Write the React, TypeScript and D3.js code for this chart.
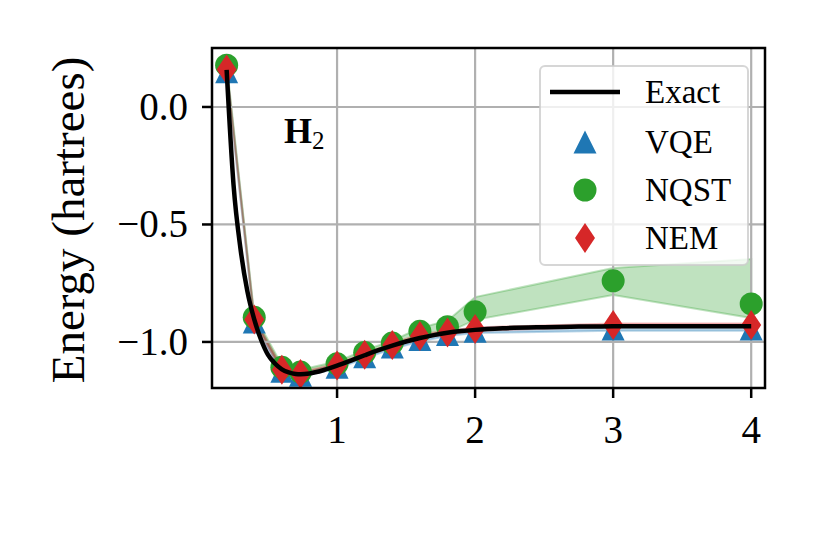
import React, { useEffect, useRef } from 'react';
import * as d3 from 'd3';

// bond lengths (angstrom) where the three methods were evaluated
const bondLengths = [0.2, 0.4, 0.6, 0.735, 1.0, 1.2, 1.4, 1.6, 1.8, 2.0, 3.0, 4.0];

// exact (FCI) curve, sampled densely
const exactX = [0.2, 0.25, 0.3, 0.35, 0.4, 0.45, 0.5, 0.55, 0.6, 0.65, 0.7, 0.735, 0.8, 0.9, 1.0, 1.1, 1.2, 1.3, 1.4, 1.5, 1.6, 1.7, 1.8, 1.9, 2.0, 2.2, 2.5, 2.75, 3.0, 3.5, 4.0];
const exactE = [0.1575, -0.3312, -0.6018, -0.7840, -0.9043, -0.9915, -1.0551, -1.0918, -1.1163, -1.1295, -1.1362, -1.1373, -1.1341, -1.1204, -1.1012, -1.0792, -1.0567, -1.0350, -1.0154, -0.9982, -0.9834, -0.9711, -0.9610, -0.9538, -0.9486, -0.9417, -0.9370, -0.9347, -0.9336, -0.9332, -0.9331];

const vqe = [0.150, -0.915, -1.125, -1.142, -1.108, -1.063, -1.022, -0.990, -0.968, -0.955, -0.945, -0.945];
const vqeLo = [0.140, -0.925, -1.133, -1.148, -1.114, -1.070, -1.030, -0.998, -0.975, -0.962, -0.952, -0.952];
const vqeHi = [0.165, -0.900, -1.115, -1.132, -1.098, -1.052, -1.010, -0.978, -0.955, -0.940, -0.930, -0.930];

const nqst = [0.178, -0.895, -1.108, -1.128, -1.093, -1.045, -1.005, -0.955, -0.935, -0.872, -0.740, -0.838];
const nqstLo = [0.170, -0.905, -1.118, -1.138, -1.103, -1.055, -1.015, -0.975, -0.960, -0.906, -0.800, -0.898];
const nqstHi = [0.185, -0.885, -1.098, -1.118, -1.083, -1.035, -0.995, -0.940, -0.910, -0.809, -0.685, -0.647];

const nem = [0.160, -0.905, -1.118, -1.136, -1.100, -1.055, -1.013, -0.975, -0.960, -0.945, -0.928, -0.928];
const nemLo = [0.152, -0.913, -1.126, -1.143, -1.107, -1.062, -1.020, -0.983, -0.968, -0.952, -0.935, -0.935];
const nemHi = [0.168, -0.897, -1.110, -1.129, -1.093, -1.048, -1.006, -0.967, -0.952, -0.938, -0.921, -0.921];

const xTicks = [1, 2, 3, 4];
const yTicks = [0.0, -0.5, -1.0];
const legendLabels = ['Exact', 'VQE', 'NQST', 'NEM'];

const BLUE = '#1f77b4';
const GREEN = '#2ca02c';
const RED = '#d62728';
const FONT = '"Liberation Serif", "DejaVu Serif", serif';

const W = 822;
const H = 543;
const M = { left: 212, right: 765, top: 48, bottom: 388 };

const triangle = 'M0,-11.5L11.5,11.5L-11.5,11.5Z';
const diamond = 'M0,-15L10,0L0,15L-10,0Z';

function App() {
  const svgRef = useRef(null);

  useEffect(() => {
    const svg = d3.select(svgRef.current);
    svg.selectAll('*').remove();

    const x = d3.scaleLinear().domain([0.094, 4.1]).range([M.left, M.right]);
    const y = d3.scaleLinear().domain([-1.196, 0.251]).range([M.bottom, M.top]);

    svg.append('defs').append('clipPath').attr('id', 'plot-clip')
      .append('rect')
      .attr('x', M.left).attr('y', M.top)
      .attr('width', M.right - M.left).attr('height', M.bottom - M.top);

    const plot = svg.append('g').attr('clip-path', 'url(#plot-clip)');

    // uncertainty bands
    const bands = [
      { lo: vqeLo, hi: vqeHi, color: BLUE },
      { lo: nqstLo, hi: nqstHi, color: GREEN },
      { lo: nemLo, hi: nemHi, color: RED },
    ];
    const area = d3.area<number>()
      .x((_, i) => x(bondLengths[i]));
    bands.forEach((b) => {
      plot.append('path')
        .attr('d', area.y0((_, i) => y(b.lo[i])).y1((_, i) => y(b.hi[i]))(bondLengths))
        .attr('fill', b.color)
        .attr('fill-opacity', 0.3)
        .attr('stroke', b.color)
        .attr('stroke-opacity', 0.3)
        .attr('stroke-width', 2);
    });

    // grid
    plot.selectAll('.gx').data(xTicks).enter().append('line')
      .attr('x1', (d) => x(d)).attr('x2', (d) => x(d))
      .attr('y1', M.top).attr('y2', M.bottom)
      .attr('stroke', '#b0b0b0').attr('stroke-width', 2.2);
    plot.selectAll('.gy').data(yTicks).enter().append('line')
      .attr('y1', (d) => y(d)).attr('y2', (d) => y(d))
      .attr('x1', M.left).attr('x2', M.right)
      .attr('stroke', '#b0b0b0').attr('stroke-width', 2.2);

    // markers
    plot.selectAll('.vqe').data(vqe).enter().append('path')
      .attr('d', triangle)
      .attr('transform', (d, i) => `translate(${x(bondLengths[i])},${y(d)})`)
      .attr('fill', BLUE);
    plot.selectAll('.nqst').data(nqst).enter().append('circle')
      .attr('cx', (_, i) => x(bondLengths[i]))
      .attr('cy', (d) => y(d))
      .attr('r', 11.5)
      .attr('fill', GREEN);
    plot.selectAll('.nem').data(nem).enter().append('path')
      .attr('d', diamond)
      .attr('transform', (d, i) => `translate(${x(bondLengths[i])},${y(d)})`)
      .attr('fill', RED);

    // exact curve
    const line = d3.line<number>()
      .x((_, i) => x(exactX[i]))
      .y((d) => y(d))
      .curve(d3.curveMonotoneX);
    plot.append('path')
      .attr('d', line(exactE))
      .attr('fill', 'none')
      .attr('stroke', 'black')
      .attr('stroke-width', 4.5);

    // frame
    svg.append('rect')
      .attr('x', M.left).attr('y', M.top)
      .attr('width', M.right - M.left).attr('height', M.bottom - M.top)
      .attr('fill', 'none').attr('stroke', 'black').attr('stroke-width', 2.5);

    // x axis
    xTicks.forEach((t) => {
      svg.append('line')
        .attr('x1', x(t)).attr('x2', x(t))
        .attr('y1', M.bottom).attr('y2', M.bottom + 10)
        .attr('stroke', 'black').attr('stroke-width', 2.5);
      svg.append('text')
        .attr('x', x(t)).attr('y', 443)
        .attr('text-anchor', 'middle')
        .attr('font-family', FONT).attr('font-size', 39)
        .text(String(t));
    });

    // y axis
    yTicks.forEach((t) => {
      svg.append('line')
        .attr('x1', M.left - 10).attr('x2', M.left)
        .attr('y1', y(t)).attr('y2', y(t))
        .attr('stroke', 'black').attr('stroke-width', 2.5);
      svg.append('text')
        .attr('x', 188).attr('y', y(t) + 13)
        .attr('text-anchor', 'end')
        .attr('font-family', FONT).attr('font-size', 39)
        .text(d3.format('.1f')(t).replace('-', '\u2212'));
    });

    svg.append('text')
      .attr('transform', `translate(84,${(M.top + M.bottom) / 2 + 2}) rotate(-90)`)
      .attr('text-anchor', 'middle')
      .attr('font-family', FONT).attr('font-size', 47)
      .text('Energy (hartrees)');

    // molecule label
    const mol = svg.append('text')
      .attr('x', 284).attr('y', 143)
      .attr('font-family', FONT).attr('font-size', 36).attr('font-weight', 'bold');
    mol.append('tspan').text('H');
    mol.append('tspan').attr('dy', 6).attr('font-size', 25).attr('font-weight', 'normal').text('2');

    // legend
    const lg = svg.append('g');
    lg.append('rect')
      .attr('x', 540).attr('y', 66)
      .attr('width', 208).attr('height', 199)
      .attr('rx', 5)
      .attr('fill', 'white').attr('fill-opacity', 0.8)
      .attr('stroke', '#cccccc').attr('stroke-opacity', 0.8).attr('stroke-width', 2);
    const rowY = [92, 142, 190, 238];
    lg.append('line')
      .attr('x1', 550).attr('x2', 620)
      .attr('y1', rowY[0]).attr('y2', rowY[0])
      .attr('stroke', 'black').attr('stroke-width', 4.5);
    lg.append('path').attr('d', triangle)
      .attr('transform', `translate(585,${rowY[1]})`).attr('fill', BLUE);
    lg.append('circle').attr('cx', 585).attr('cy', rowY[2]).attr('r', 11.5).attr('fill', GREEN);
    lg.append('path').attr('d', diamond)
      .attr('transform', `translate(585,${rowY[3]})`).attr('fill', RED);
    legendLabels.forEach((label, i) => {
      lg.append('text')
        .attr('x', 645).attr('y', rowY[i] + 11)
        .attr('font-family', FONT).attr('font-size', 33)
        .text(label);
    });
  }, []);

  return (
    <svg
      ref={svgRef}
      width={W}
      height={H}
      style={{ position: 'absolute', left: 0, top: 0, background: 'white' }}
    />
  );
}

export default App;
